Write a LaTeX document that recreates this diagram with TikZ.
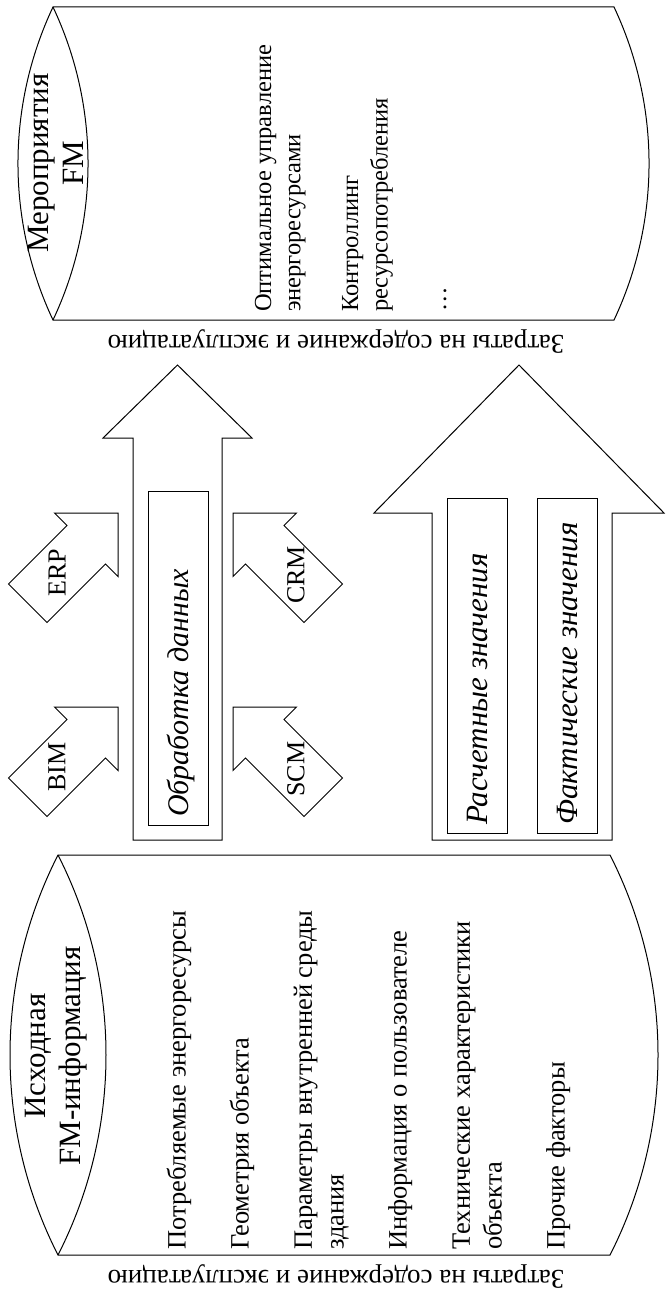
\documentclass[tikz,border=0pt]{standalone}
\usepackage{fontspec}
\setmainfont{Liberation Serif}
\begin{document}
\begin{tikzpicture}[x=1pt, y=-1pt,
  outline/.style={draw=black, line width=1pt, fill=white, line join=miter},
  thin/.style={draw=black, line width=1pt},
  cyltitle/.style={font=\fontsize{31}{35}\selectfont, align=center, rotate=90, inner sep=0pt},
  itemtop/.style={font=\fontsize{24.5}{29}\selectfont, rotate=90, anchor=base west, inner sep=0pt},
  itembot/.style={font=\fontsize{26.5}{31}\selectfont, rotate=90, anchor=base west, inner sep=0pt},
  costlabel/.style={font=\fontsize{27}{30}\selectfont, rotate=180, anchor=base, inner sep=0pt},
  sysname/.style={font=\fontsize{26}{28}\selectfont, rotate=90, inner sep=0pt},
  flowtext/.style={font=\itshape\fontsize{31}{34}\selectfont, rotate=90, anchor=base west, inner sep=0pt},
  sysarrow/.pic={\draw[outline] (0,0) -- (0,63.5) -- (-12.5,51) -- (-71,109.5)
      -- (-109.5,71) -- (-51,12.5) -- (-63.5,0) -- cycle;}
]
\fill[white] (0,0) rectangle (665,1295);
\useasboundingbox (0,0) rectangle (665,1295);

% ---- cylinder: FM measures ----
\draw[outline] (53,7) -- (614,7) .. controls (660.7,106) and (660.7,221) .. (614,320)
  -- (53,320) .. controls (6.3,221) and (6.3,106) .. (53,7) -- cycle;
\draw[thin] (53,7) .. controls (99.7,106) and (99.7,221) .. (53,320);
\node[cyltitle] (mtitle) at (56,163) {Мероприятия\\FM};
\node[itemtop] (m1a) at (271,312) {Оптимальное управление};
\node[itemtop] (m1b) at (300.3,312) {энергоресурсами};
\node[itemtop] (m2a) at (358,312) {Контроллинг};
\node[itemtop] (m2b) at (387.5,312) {ресурсопотребления};
\node[itemtop] (m3) at (446,312) {…};
\node[costlabel] (mcost) at (336,335) {Затраты на содержание и эксплуатацию};

% ---- cylinder: source FM information ----
\draw[outline] (58,855) -- (610,855) .. controls (674,980.6) and (674,1129.4) .. (610,1255)
  -- (58,1255) .. controls (-6,1129.4) and (-6,980.6) .. (58,855) -- cycle;
\draw[thin] (58,855) .. controls (122,980.6) and (122,1129.4) .. (58,1255);
\node[cyltitle] (stitle) at (56,1056) {Исходная\\FM-информация};
\node[itembot] (s1) at (185.5,1250) {Потребляемые энергоресурсы};
\node[itembot] (s2) at (248.7,1250) {Геометрия объекта};
\node[itembot] (s3a) at (311.9,1250) {Параметры внутренней среды};
\node[itembot] (s3b) at (343.5,1250) {здания};
\node[itembot] (s4) at (406.7,1250) {Информация о пользователе};
\node[itembot] (s5a) at (469.9,1250) {Технические характеристики};
\node[itembot] (s5b) at (501.5,1250) {объекта};
\node[itembot] (s6) at (564.7,1250) {Прочие факторы};
\node[costlabel] (scost) at (336,1270) {Затраты на содержание и эксплуатацию};

% ---- data processing arrow ----
\draw[outline] (133,840) -- (133,438) -- (103,438) -- (177.5,365) -- (252,438)
  -- (222,438) -- (222,840) -- cycle;
\draw[thin] (148,491) rectangle (208,825);
\node[flowtext, font=\itshape\fontsize{30}{33}\selectfont] (proc) at (188,817) {Обработка данных};

% ---- incoming systems ----
\pic at (118,513) {sysarrow};
\pic at (118,707) {sysarrow};
\pic[xscale=-1] at (233,513) {sysarrow};
\pic[xscale=-1] at (233,707) {sysarrow};
\node[sysname] (erp) at (57,573) {ERP};
\node[sysname] (bim) at (57,767) {BIM};
\node[sysname] (crm) at (296,575) {CRM};
\node[sysname] (scm) at (296,769) {SCM};

% ---- values arrow ----
\draw[outline] (432,840) -- (432,513) -- (374,513) -- (519,365) -- (664,513)
  -- (612,513) -- (612,840) -- cycle;
\draw[thin] (447,498) rectangle (507,833);
\draw[thin] (537,498) rectangle (597,833);
\node[flowtext] (calc) at (487,825) {Расчетные значения};
\node[flowtext] (fact) at (577,825) {Фактические значения};
\end{tikzpicture}
\end{document}
